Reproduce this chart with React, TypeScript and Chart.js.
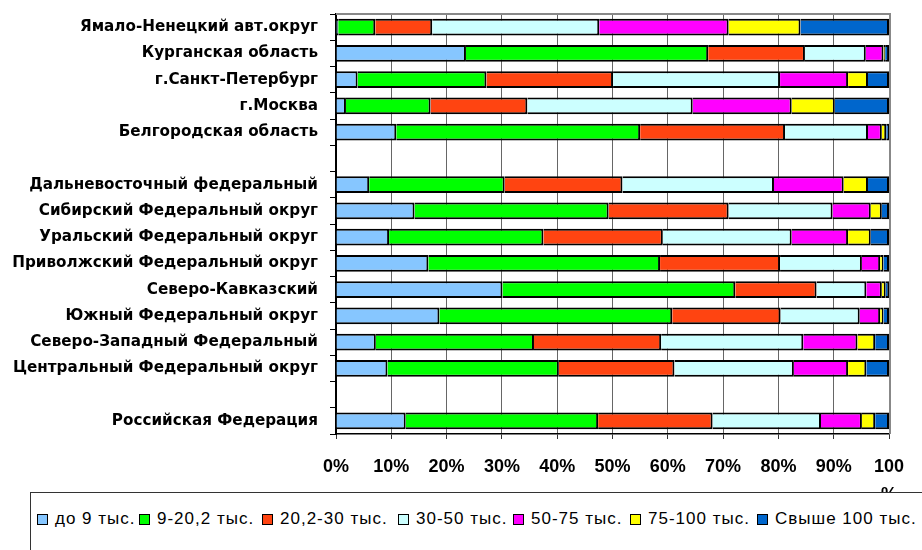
import React, { useEffect, useRef } from "react";
import { Chart, registerables } from "chart.js";

Chart.register(...registerables);

const categories: string[] = [
  "Ямало-Ненецкий авт.округ",
  "Курганская область",
  "г.Санкт-Петербург",
  "г.Москва",
  "Белгородская область",
  "",
  "Дальневосточный федеральный",
  "Сибирский Федеральный округ",
  "Уральский Федеральный округ",
  "Приволжский Федеральный округ",
  "Северо-Кавказский",
  "Южный Федеральный округ",
  "Северо-Западный Федеральный",
  "Центральный Федеральный округ",
  "",
  "Российская Федерация",
];

const seriesNames: string[] = [
  "до 9 тыс.",
  "9-20,2 тыс.",
  "20,2-30 тыс.",
  "30-50 тыс.",
  "50-75 тыс.",
  "75-100 тыс.",
  "Свыше 100 тыс.",
];

const seriesColors: string[] = ["#86C6FF", "#00FF00", "#FF4411", "#CCFFFF", "#FF00FF", "#FFFF00", "#0066CC"];

const upTo9: (number | null)[] = [0.4, 23.5, 3.9, 1.8, 10.9, null, 6.0, 14.2, 9.6, 16.7, 30.1, 18.7, 7.2, 9.3, null, 12.6];
const from9to20: (number | null)[] = [6.7, 43.8, 23.3, 15.3, 44.1, null, 24.5, 35.1, 27.9, 41.9, 42.1, 42.1, 28.6, 31.0, null, 34.8];
const from20to30: (number | null)[] = [10.3, 17.5, 22.9, 17.5, 26.2, null, 21.3, 21.7, 21.6, 21.7, 14.7, 19.6, 23.0, 20.9, null, 20.7];
const from30to50: (number | null)[] = [30.2, 11.0, 30.2, 29.9, 15.0, null, 27.4, 18.8, 23.3, 14.8, 9.0, 14.3, 25.7, 21.6, null, 19.6];
const from50to75: (number | null)[] = [23.4, 3.2, 12.3, 17.9, 2.5, null, 12.6, 6.9, 10.2, 3.3, 2.8, 3.7, 9.8, 9.8, null, 7.4];
const from75to100: (number | null)[] = [13.0, 0.3, 3.6, 7.8, 0.8, null, 4.4, 2.0, 4.1, 0.6, 0.7, 0.6, 3.2, 3.3, null, 2.4];
const over100: (number | null)[] = [16.0, 0.7, 3.8, 9.8, 0.5, null, 3.8, 1.3, 3.3, 1.0, 0.6, 1.0, 2.5, 4.1, null, 2.5];

const seriesValues = [upTo9, from9to20, from20to30, from30to50, from50to75, from75to100, over100];

const xTicks: number[] = [0, 10, 20, 30, 40, 50, 60, 70, 80, 90, 100];

// legend item left positions (layout)
const legendLefts: number[] = [6, 108, 231, 367, 482, 599, 726];

const FONT = "'Liberation Sans', Arial, sans-serif";
const LABEL_FONT = "'DejaVu Sans', sans-serif";

const topBorder = {
  id: "topBorder",
  afterDraw(chart: any) {
    const { ctx, chartArea } = chart;
    ctx.save();
    ctx.strokeStyle = "#888";
    ctx.lineWidth = 2;
    ctx.beginPath();
    ctx.moveTo(chartArea.left, chartArea.top);
    ctx.lineTo(chartArea.right + 1, chartArea.top);
    ctx.lineTo(chartArea.right + 1, chartArea.bottom);
    ctx.stroke();
    ctx.restore();
  },
};

export default function App() {
  const ref = useRef<HTMLCanvasElement | null>(null);

  useEffect(() => {
    document.body.style.margin = "0";
    const canvas = ref.current;
    if (!canvas) return;
    const chart = new Chart(canvas, {
      type: "bar",
      data: {
        labels: categories,
        datasets: seriesNames.map((name, i) => ({
          label: name,
          data: seriesValues[i],
          backgroundColor: seriesColors[i],
          borderColor: "#000",
          borderWidth: 2,
          barPercentage: 0.64,
          categoryPercentage: 1,
        })),
      },
      options: {
        indexAxis: "y",
        animation: false,
        responsive: false,
        maintainAspectRatio: false,
        layout: { padding: { top: 14, right: 33, left: 0, bottom: 0 } },
        plugins: { legend: { display: false }, tooltip: { enabled: false } },
        scales: {
          x: {
            stacked: true,
            min: 0,
            max: 100,
            afterBuildTicks: (scale: any) => {
              scale.ticks = xTicks.map((v) => ({ value: v }));
            },
            afterFit: (scale: any) => {
              scale.height = 116;
            },
            ticks: {
              autoSkip: false,
              maxRotation: 0,
              padding: 14,
              color: "#000",
              font: { family: FONT, size: 18, weight: "bold", lineHeight: 1.55 },
              callback: (v: any) => (Number(v) === 100 ? ["100", "%"] : v + "%"),
            },
            grid: { color: "#666", lineWidth: 1, tickLength: 5, tickColor: "#333" },
            border: { color: "#000", width: 1.5 },
          },
          y: {
            stacked: true,
            afterFit: (scale: any) => {
              scale.width = 336;
              scale.paddingTop = 0;
              scale.paddingBottom = 0;
            },
            ticks: {
              autoSkip: false,
              padding: 12,
              color: "#000",
              font: { family: LABEL_FONT, size: 15.2, weight: "bold" },
            },
            grid: { offset: true, drawOnChartArea: false, tickLength: 6, color: "#000", lineWidth: 1 },
            border: { color: "#000", width: 2 },
          },
        },
      },
      plugins: [topBorder],
    });
    return () => chart.destroy();
  }, []);

  return (
    <div style={{ position: "relative", width: 922, height: 550, overflow: "hidden", background: "#fff" }}>
      <canvas ref={ref} width={922} height={550} style={{ display: "block" }} />
      <div
        style={{
          position: "absolute",
          left: 30,
          top: 492,
          width: 920,
          height: 80,
          border: "1px solid #333",
          background: "#fff",
          boxSizing: "border-box",
          fontFamily: FONT,
          fontSize: 17,
          letterSpacing: 1,
          color: "#000",
          whiteSpace: "nowrap",
        }}
      >
        {seriesNames.map((name, i) => (
          <span
            key={name}
            style={{ position: "absolute", left: legendLefts[i], top: 16, display: "inline-flex", alignItems: "center" }}
          >
            <span
              style={{
                display: "inline-block",
                width: 9,
                height: 9,
                background: seriesColors[i],
                border: "1.5px solid #000",
                marginRight: 7,
              }}
            />
            {name}
          </span>
        ))}
      </div>
    </div>
  );
}
